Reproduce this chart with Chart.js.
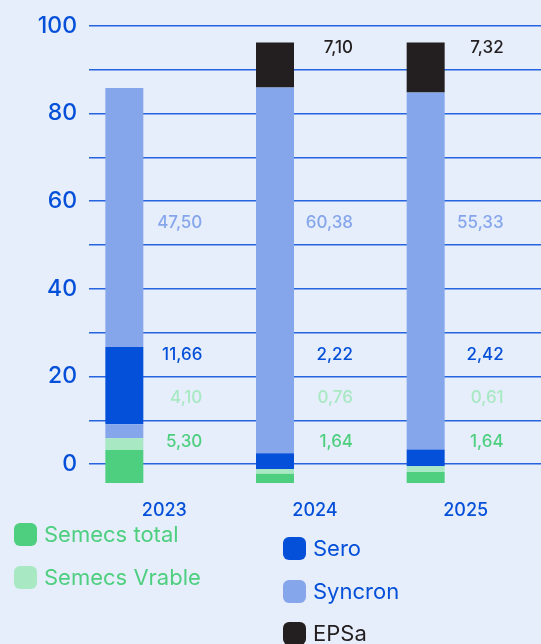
<!DOCTYPE html>
<html>
<head>
<meta charset="utf-8">
<script src="https://cdn.jsdelivr.net/npm/chart.js@4"></script>
<style>
  html, body { margin: 0; padding: 0; background: #e7eefb; }
  #wrap { position: relative; width: 541px; height: 644px; }
  #chart { position: absolute; left: 0; top: 0; }
  .leg { position: absolute; display: flex; align-items: center; font-family: Inter, "Noto Sans", sans-serif; font-size: 22px; white-space: nowrap; }
  .leg i { display: inline-block; width: 23px; height: 23px; border-radius: 6px; margin-right: 7px; }
</style>
</head>
<body>
<div id="wrap">
  <canvas id="chart" width="541" height="644"></canvas>
  <div class="leg" style="left:14px; top:521px; color:#4ecf80;"><i style="background:#4ecf80"></i>Semecs total</div>
  <div class="leg" style="left:14px; top:564px; color:#4ecf80;"><i style="background:#a8e8c3"></i>Semecs Vrable</div>
  <div class="leg" style="left:283px; top:535px; color:#0550d9;"><i style="background:#0550d9"></i>Sero</div>
  <div class="leg" style="left:283px; top:578px; color:#0550d9;"><i style="background:#86a6ec"></i>Syncron</div>
  <div class="leg" style="left:283px; top:620px; color:#231f20;"><i style="background:#231f20"></i>EPSa</div>
</div>
<script>
// data //
var years = ['2023', '2024', '2025'];
var base = [-4.3, -4.3, -4.3];          // where each bar starts
var semecsTotal = [7.5, 2.1, 2.5];
var semecsVrable = [2.7, 1.1, 1.3];
var syncronLow = [3.2, 0, 0];           // small syncron piece under sero in 2023
var sero = [17.6, 3.6, 3.8];
var syncron = [59.1, 83.4, 81.5];
var epsa = [0, 10.3, 11.4];
var yTicks = [0, 10, 20, 30, 40, 50, 60, 70, 80, 90, 100];

// texts shown next to the bars
var semecsTotalText = ['5,30', '1,64', '1,64'];
var semecsVrableText = ['4,10', '0,76', '0,61'];
var seroText = ['11,66', '2,22', '2,42'];
var syncronText = ['47,50', '60,38', '55,33'];
var epsaText = ['', '7,10', '7,32'];
// data //

var GREEN = '#4ecf80', LGREEN = '#a8e8c3', BLUE = '#0550d9', LBLUE = '#86a6ec', DARK = '#231f20';

// build floating ranges bottom to top
var parts = [
    { label: 'Semecs total', values: semecsTotal, color: GREEN },
    { label: 'Semecs Vrable', values: semecsVrable, color: LGREEN },
    { label: 'Syncron low', values: syncronLow, color: LBLUE },
    { label: 'Sero', values: sero, color: BLUE },
    { label: 'Syncron', values: syncron, color: LBLUE },
    { label: 'EPSa', values: epsa, color: DARK }
];
var running = base.slice();
var datasets = parts.map(function (p) {
    var d = p.values.map(function (v, i) {
        if (!v) return null;
        var r = [running[i], running[i] + v];
        running[i] += v;
        return r;
    });
    return { label: p.label, data: d, backgroundColor: p.color, stack: 'main', borderWidth: 0 };
});
// empty group so the bars sit left of the year label
datasets.push({ label: 'pad', data: [null, null, null], stack: 'pad' });

var textRows = [
    { level: 5, texts: semecsTotalText, color: GREEN },
    { level: 15, texts: semecsVrableText, color: LGREEN },
    { level: 25, texts: seroText, color: BLUE },
    { level: 55, texts: syncronText, color: LBLUE },
    { level: 95, texts: epsaText, color: DARK }
];

var valueLabels = {
    id: 'valueLabels',
    afterDatasetsDraw: function (chart) {
        var c = chart.ctx, xs = chart.scales.x, ys = chart.scales.y;
        c.save();
        c.font = '500 17px Inter, "Noto Sans", sans-serif';
        c.textAlign = 'right';
        c.textBaseline = 'middle';
        textRows.forEach(function (row) {
            row.texts.forEach(function (t, i) {
                if (!t) return;
                c.fillStyle = row.color;
                c.fillText(t, xs.getPixelForValue(i) + 38, ys.getPixelForValue(row.level));
            });
        });
        c.restore();
    }
};

var ctx = document.getElementById('chart').getContext('2d');
var myChart = new Chart(ctx, {
    type: 'bar',
    data: { labels: years, datasets: datasets },
    options: {
        responsive: false,
        animation: false,
        categoryPercentage: 1.062,
        barPercentage: 0.475,
        layout: { padding: { top: 12, right: 0, left: 0, bottom: 0 } },
        plugins: { legend: { display: false }, tooltip: { enabled: false } },
        scales: {
            x: {
                grid: { display: false },
                border: { display: false },
                ticks: {
                    color: BLUE,
                    font: { family: 'Inter', size: 18, weight: '500' },
                    padding: 6
                },
                afterFit: function (scale) { scale.height = 158; }
            },
            y: {
                stacked: false,
                min: -5,
                max: 100,
                border: { display: false },
                grid: {
                    drawTicks: false,
                    lineWidth: 1.5,
                    color: '#2563e0'
                },
                ticks: {
                    autoSkip: false,
                    padding: 12,
                    color: BLUE,
                    font: { family: 'Inter', size: 23, weight: '500' },
                    callback: function (v) { return (v % 20 === 0) ? v : ''; }
                },
                afterBuildTicks: function (scale) {
                    scale.ticks = yTicks.map(function (v) { return { value: v }; });
                },
                afterFit: function (scale) { scale.width = 89; }
            }
        }
    },
    plugins: [valueLabels]
});
</script>
</body>
</html>
